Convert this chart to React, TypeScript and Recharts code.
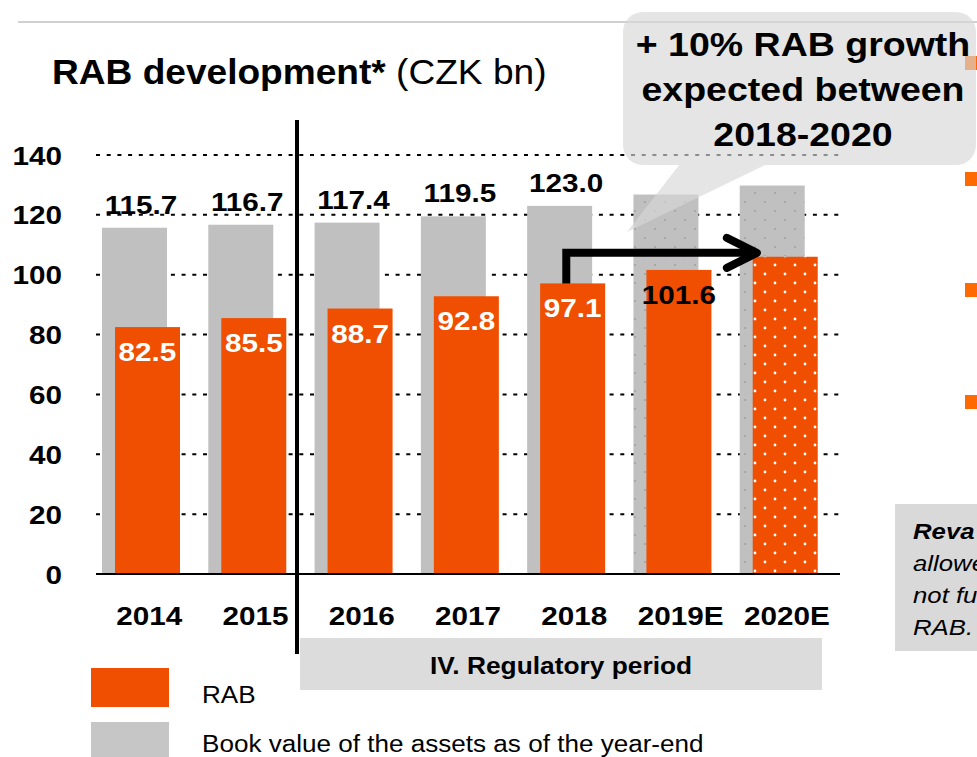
import React from "react";
import {
  BarChart,
  Bar,
  XAxis,
  YAxis,
  CartesianGrid,
  Cell,
  LabelList,
  ReferenceLine,
} from "recharts";

const years = ["2014", "2015", "2016", "2017", "2018", "2019E", "2020E"];
const bookValue = [115.7, 116.7, 117.4, 119.5, 123.0, 126.8, 129.8];
const rabValue = [82.5, 85.5, 88.7, 92.8, 97.1, 101.6, 106.0];
const estimated = [false, false, false, false, false, true, true];
const bookLabelled = [true, true, true, true, true, false, false];
const rabLabelled = [true, true, true, true, true, true, false];
const yTicks = [0, 20, 40, 60, 80, 100, 120, 140];
const seriesNames = ["RAB", "Book value of the assets as of the year-end"];
const periodLabel = "IV. Regulatory period";
const calloutLines = ["+ 10% RAB growth", "expected between", "2018-2020"];
const sideNoteLines = ["Reva", "allowe", "not fu", "RAB."];
// the growth arrow runs from the 2018 RAB bar over to 2020E at this level
const arrowLevel = 107.3;

const W = 977;
const H = 757;
const FONT = "'Liberation Sans', Arial, Helvetica, sans-serif";
const STRETCH = 1.12; // the source slide text is a bit wide
const ORANGE = "#f04e00";
const GRAY = "#c0c0c0";
const BAR = 65;
const OVERLAP = 52;
const SHIFT = -8; // the bar pair sits a little left of the category centre

const data = years.map((year, i) => ({
  year,
  book: bookValue[i],
  rab: rabValue[i],
  estimate: estimated[i],
}));

function SText({ x, y, size, bold, italic, anchor = "start", fill = "#000", sx = STRETCH, children }: any) {
  return (
    <text
      transform={`translate(${x} ${y}) scale(${sx} 1)`}
      textAnchor={anchor}
      fontSize={size}
      fontWeight={bold ? 700 : 400}
      fontStyle={italic ? "italic" : "normal"}
      fill={fill}
      fontFamily={FONT}
    >
      {children}
    </text>
  );
}

function BarShape(props: any) {
  const { x, y, width, height, fill } = props;
  if (!height || height <= 0) return null;
  return <rect x={x + SHIFT} y={y} width={width} height={height} fill={fill} />;
}

function box(props: any) {
  const vb = props.viewBox || {};
  return {
    x: vb.x ?? props.x,
    y: vb.y ?? props.y,
    index: props.index,
    value: props.value,
  };
}

function BookLabel(props: any) {
  const { x, y, index, value } = box(props);
  if (!bookLabelled[index]) return null;
  return (
    <SText x={x + SHIFT + (2 * BAR - OVERLAP) / 2} y={y - 14} size={26.5} bold anchor="middle">
      {Number(value).toFixed(1)}
    </SText>
  );
}

function RabLabel(props: any) {
  const { x, y, index, value } = box(props);
  if (!rabLabelled[index]) return null;
  return (
    <SText
      x={x + SHIFT + BAR / 2}
      y={y + 34}
      size={26.5}
      bold
      anchor="middle"
      fill={estimated[index] ? "#000" : "#fff"}
    >
      {Number(value).toFixed(1)}
    </SText>
  );
}

function XTick({ x, y, payload }: any) {
  return (
    <SText x={x} y={y + 43} size={26.5} bold anchor="middle">
      {payload.value}
    </SText>
  );
}

function YTick({ x, y, payload }: any) {
  return (
    <SText x={x - 26} y={y + 9.5} size={26.5} bold anchor="end">
      {payload.value}
    </SText>
  );
}

function ElbowArrow(props: any) {
  const { x1, y1, x2, y2 } = props;
  if (x1 == null) return null;
  const sx = x1 + SHIFT;
  const tip = x2 - 30;
  return (
    <g fill="none" stroke="#000" strokeWidth={8}>
      <path d={`M${sx},${y1} V${y2} H${tip - 4}`} strokeLinejoin="miter" />
      <path
        d={`M${tip - 30},${y2 - 15} L${tip},${y2} L${tip - 30},${y2 + 15}`}
        strokeLinecap="round"
        strokeLinejoin="round"
      />
    </g>
  );
}

export default function App() {
  return (
    <div
      style={{
        position: "absolute",
        left: 0,
        top: 0,
        width: W,
        height: H,
        overflow: "hidden",
        background: "#fff",
        fontFamily: FONT,
      }}
    >
      <BarChart
        width={W}
        height={H}
        data={data}
        margin={{ top: 155, right: 137, bottom: 153, left: 0 }}
        barGap={-OVERLAP}
      >
        <defs>
          <pattern id="dotsGray" width={20} height={18} patternUnits="userSpaceOnUse">
            <rect width={20} height={18} fill={GRAY} />
            <circle cx={5} cy={4} r={1.1} fill="#a2a2a2" />
            <circle cx={15} cy={13} r={1.1} fill="#a2a2a2" />
          </pattern>
          <pattern id="dotsOrange" width={20} height={18} patternUnits="userSpaceOnUse">
            <rect width={20} height={18} fill={ORANGE} />
            <circle cx={5} cy={4} r={1.4} fill="#fff" />
            <circle cx={15} cy={13} r={1.4} fill="#fff" />
          </pattern>
        </defs>
        <CartesianGrid vertical={false} stroke="#000" strokeWidth={2} strokeDasharray="4 6.7" />
        <XAxis
          dataKey="year"
          height={30}
          interval={0}
          tickLine={false}
          axisLine={{ stroke: "#000", strokeWidth: 2 }}
          tick={<XTick />}
        />
        <YAxis
          domain={[0, 140]}
          ticks={yTicks}
          width={96}
          axisLine={false}
          tickLine={false}
          tick={<YTick />}
        />
        <Bar dataKey="book" name={seriesNames[1]} barSize={BAR} isAnimationActive={false} shape={BarShape}>
          {data.map((d, i) => (
            <Cell key={`b-${i}`} fill={d.estimate ? "url(#dotsGray)" : GRAY} />
          ))}
          <LabelList dataKey="book" content={BookLabel} />
        </Bar>
        <Bar dataKey="rab" name={seriesNames[0]} barSize={BAR} isAnimationActive={false} shape={BarShape}>
          {data.map((d, i) => (
            <Cell key={`r-${i}`} fill={d.estimate && i === data.length - 1 ? "url(#dotsOrange)" : ORANGE} />
          ))}
          <LabelList dataKey="rab" content={RabLabel} />
        </Bar>
        <ReferenceLine
          segment={[
            { x: years[4], y: rabValue[4] },
            { x: years[6], y: arrowLevel },
          ]}
          ifOverflow="visible"
          shape={ElbowArrow}
        />
      </BarChart>

      <svg
        width={W}
        height={H}
        style={{ position: "absolute", left: 0, top: 0, pointerEvents: "none" }}
      >
        <line x1={18} x2={W} y1={22} y2={22} stroke="#d0d0d0" strokeWidth={2} />

        <SText x={52} y={84} size={35} sx={1.06}>
          <tspan fontWeight={700}>RAB development*</tspan>
          <tspan> (CZK bn)</tspan>
        </SText>

        <rect x={295} y={120} width={4} height={534} fill="#000" />

        {/* bullets of the neighbouring slide text, cut off at the edge */}
        {[56, 172, 283, 395].map((y) => (
          <rect key={y} x={965} y={y} width={13} height={14} fill="#ff6a00" />
        ))}

        <g opacity={0.65} fill="#d8d8d8">
          <rect x={623} y={12} width={353} height={153} rx={20} />
          <polygon points="680,164 767,164 627,232" />
        </g>
        {calloutLines.map((t, i) => (
          <SText key={t} x={803} y={56 + i * 45} size={33.5} bold anchor="middle">
            {t}
          </SText>
        ))}

        <rect x={300} y={638} width={522} height={52} fill="#dcdcdc" />
        <SText x={561} y={674} size={23.5} bold anchor="middle">
          {periodLabel}
        </SText>

        <rect x={91} y={668} width={78} height={39} fill={ORANGE} />
        <SText x={202} y={703} size={23.3}>
          {seriesNames[0]}
        </SText>
        <rect x={91} y={722} width={78} height={40} fill="#c6c6c6" />
        <SText x={202} y={752} size={23.3}>
          {seriesNames[1]}
        </SText>

        <rect x={895} y={504} width={82} height={147} fill="#d9d9d9" />
        {sideNoteLines.map((t, i) => (
          <SText key={t} x={913} y={539 + i * 32} size={23} italic bold={i === 0}>
            {t}
          </SText>
        ))}
      </svg>
    </div>
  );
}
